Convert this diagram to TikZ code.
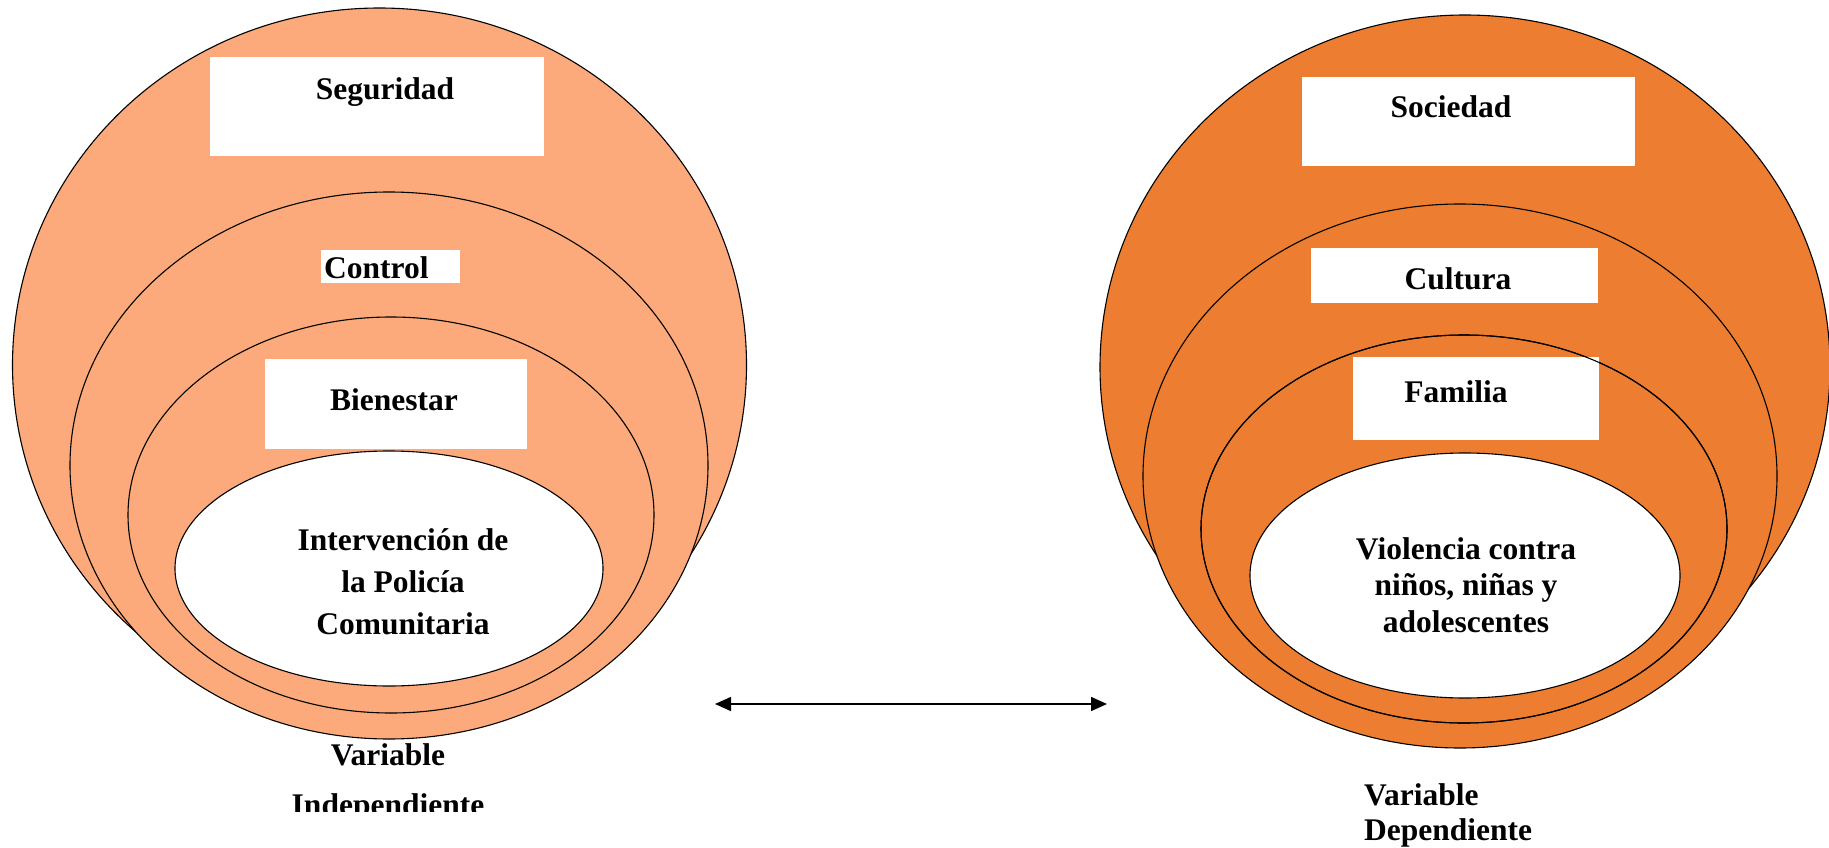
\documentclass[tikz,border=0pt]{standalone}
\usepackage{fontspec}
\setmainfont{Liberation Serif}
\usetikzlibrary{arrows.meta}
\definecolor{lightor}{HTML}{FCAA7B}
\definecolor{darkor}{HTML}{ED7D31}
\begin{document}
\begin{tikzpicture}[x=1pt,y=-1pt,
  lbl/.style={font=\fontsize{31.5}{42}\selectfont\bfseries, inner sep=0pt, align=center},
  wbox/.style={fill=white, draw=none, inner sep=0pt, anchor=north west},
  ring/.style={draw=black, line width=1.1pt},
  >={Triangle[length=16pt,width=14pt]}
]
\useasboundingbox (0,0) rectangle (1829,848);
% ---------- left figure ----------
\draw[ring, fill=lightor] (379.5,365) ellipse [x radius=367, y radius=357];
\draw[ring, fill=lightor] (389,465.5) ellipse [x radius=319, y radius=273.5];
\draw[ring, fill=lightor] (391,515) ellipse [x radius=263, y radius=198];
\draw[ring, fill=white] (389,568.5) ellipse [x radius=214, y radius=117.5];
\node[wbox, minimum width=334pt, minimum height=99pt] (bseg) at (210,57) {};
\node[wbox, minimum width=139pt, minimum height=33pt] (bcon) at (321,250) {};
\node[wbox, minimum width=262pt, minimum height=90pt] (bbie) at (265,359) {};
\node[lbl] (tseg) at (385,92) {Seguridad};
\node[lbl, anchor=west] (tcon) at (324,268) {Control};
\node[lbl] (tbie) at (394,400) {Bienestar};
\node[lbl] (tint) at (403,582) {Intervención de\\la Policía\\Comunitaria};
\begin{scope}
\clip (0,0) rectangle (1829,811);
\node[lbl, font=\fontsize{31.5}{50}\selectfont\bfseries] (tvi) at (388,782.5) {Variable\\Independiente};
\end{scope}
% ---------- right figure ----------
\draw[ring, fill=darkor] (1465,367) ellipse [x radius=365, y radius=352];
\draw[ring, fill=darkor] (1460,476) ellipse [x radius=317, y radius=272];
\draw[ring, fill=darkor] (1464,529) ellipse [x radius=263, y radius=194];
\draw[ring, fill=white] (1465,575.5) ellipse [x radius=215, y radius=122.5];
\node[wbox, minimum width=333pt, minimum height=89pt] (bsoc) at (1302,77) {};
\node[wbox, minimum width=287pt, minimum height=55pt] (bcul) at (1311,248) {};
\node[wbox, minimum width=246pt, minimum height=83pt] (bfam) at (1353,357) {};
\draw[ring] (1464,529) ellipse [x radius=263, y radius=194];
\node[lbl] (tsoc) at (1451,107) {Sociedad};
\node[lbl] (tcul) at (1458,279) {Cultura};
\node[lbl] (tfam) at (1456,392) {Familia};
\node[lbl, font=\fontsize{31.5}{36.5}\selectfont\bfseries] (tvio) at (1466,585) {Violencia contra\\niños, niñas y\\adolescentes};
\node[lbl, align=left, anchor=west, font=\fontsize{31.5}{35}\selectfont\bfseries] (tvd) at (1364,815) {Variable\\Dependiente};
% ---------- arrow ----------
\coordinate (aL) at (715,704);
\coordinate (aR) at (1107,704);
\coordinate (mL) at (885,704);
\coordinate (mR) at (939,704);
\draw[<->, line width=1.5pt] (aL) -- (aR);
\draw[line width=2.6pt] (mL) -- (mR);
\end{tikzpicture}
\end{document}
